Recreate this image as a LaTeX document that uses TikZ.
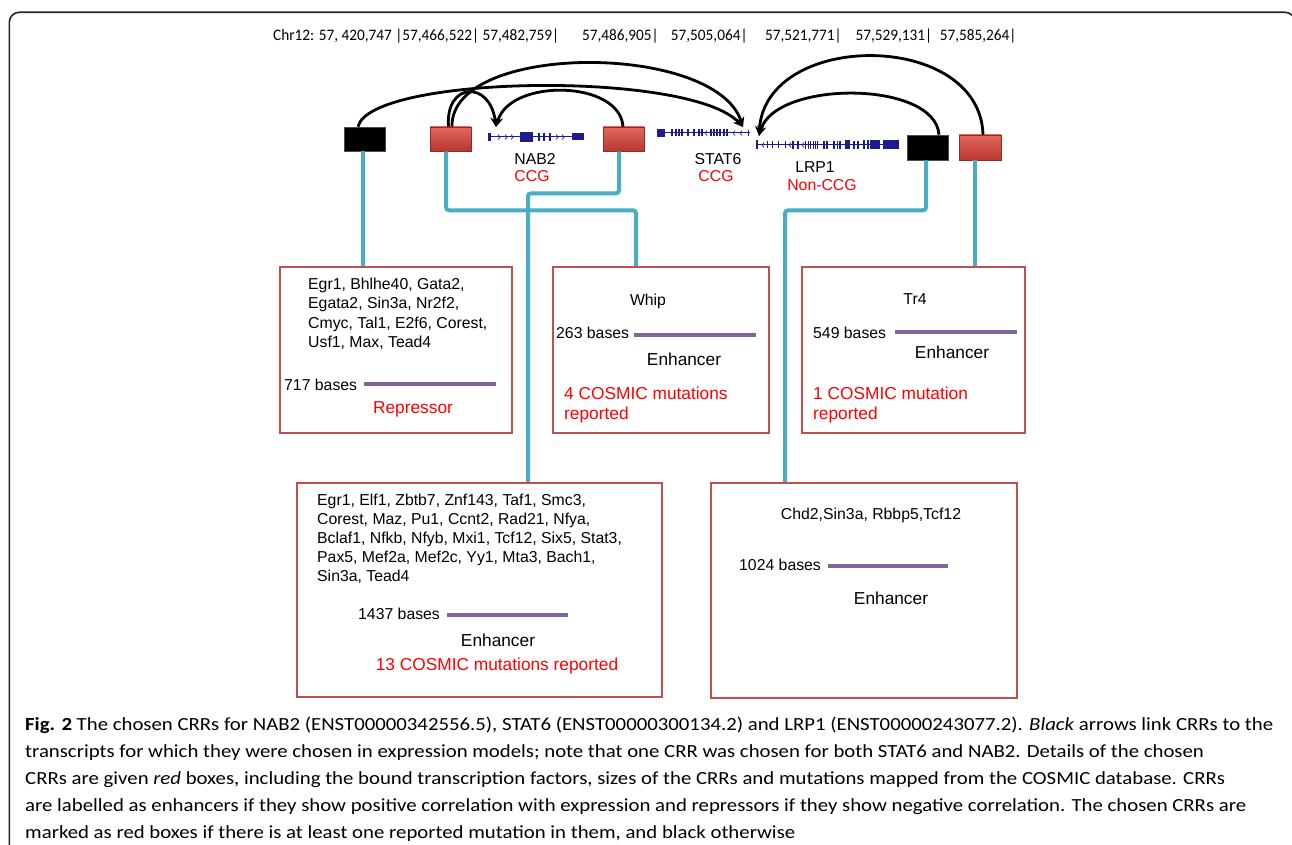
\documentclass[tikz,border=0pt]{standalone}
\usepackage{fontspec}
\usepackage{graphicx}
\setmainfont{Liberation Sans}
\newfontfamily\capfont{Carlito}
\newfontfamily\hdrfont{Carlito}
\usetikzlibrary{arrows.meta}
\definecolor{cblue}{HTML}{4BACC6}
\definecolor{cred}{HTML}{C0504D}
\definecolor{cpurp}{HTML}{8064A2}
\definecolor{cnavy}{HTML}{1C1C8C}
\definecolor{crrtop}{HTML}{E2675D}
\definecolor{crrbot}{HTML}{B8362F}
\definecolor{crredge}{HTML}{8E2B25}
\definecolor{tred}{HTML}{FF0000}
\newlength\capw
\newlength\hdrw
\newcommand\capA{\textbf{Fig. 2} The chosen CRRs for NAB2 (ENST00000342556.5), STAT6 (ENST00000300134.2) and LRP1 (ENST00000243077.2). \textit{Black} arrows link CRRs to the}
\newcommand\capB{transcripts for which they were chosen in expression models; note that one CRR was chosen for both STAT6 and NAB2. Details of the chosen}
\newcommand\capC{CRRs are given \textit{red} boxes, including the bound transcription factors, sizes of the CRRs and mutations mapped from the COSMIC database. CRRs}
\newcommand\capD{are labelled as enhancers if they show positive correlation with expression and repressors if they show negative correlation. The chosen CRRs are}
\newcommand\capE{marked as red boxes if there is at least one reported mutation in them, and black otherwise}
\newcommand\hdrtext{Chr12: 57, 420,747 |57,466,522| 57,482,759|\hspace*{1.5em}57,486,905|\hspace*{0.8em}57,505,064|\hspace*{1.15em}57,521,771|\hspace*{0.9em}57,529,131|\hspace*{0.5em}57,585,264|}
\begin{document}
\settowidth\hdrw{\hdrfont\fontsize{16}{18}\selectfont\hdrtext}
\settowidth\capw{\capfont\fontsize{18.5}{20}\selectfont\capA}
\begin{tikzpicture}[x=1pt,y=-1pt,
  tf/.style={inner sep=0, font=\fontsize{15.8}{18}\selectfont},
  tb/.style={inner sep=0, font=\fontsize{17.3}{20}\selectfont},
  rtx/.style={text=tred},
  crrbox/.style={draw=cred, line width=2.5, inner sep=0},
  bl/.style={draw=cblue, line width=4, rounded corners=3},
  pl/.style={draw=cpurp, line width=4},
  lnk/.style={draw=black, line width=2.8, -{Stealth[length=10,width=9]}},
  crrred/.style={top color=crrtop, bottom color=crrbot, draw=crredge, line width=0.6, inner sep=0, minimum width=41, minimum height=24},
  crrblk/.style={fill=black, draw=black!70, line width=0.6, inner sep=0, minimum width=41, minimum height=24},
  gene/.style={draw=cnavy, line width=1},
  captext/.style={inner sep=0, font=\capfont\fontsize{18.5}{20}\selectfont},
  hdrtxt/.style={inner sep=0, font=\hdrfont\fontsize{16}{18}\selectfont}
]
\useasboundingbox (0,0) rectangle (1292,845);
\clip (0,0) rectangle (1292,845);
\fill[white] (0,0) rectangle (1292,845);
\draw[line width=1.6, black!85, rounded corners=10] (9.3,900) -- (9.3,12.3) -- (1295,12.3) -- (1295,900);

% header
\pgfmathsetmacro\hdrsx{743/\hdrw}
\node[hdrtxt, anchor=base west] (hdr) at (273,41) {\scalebox{\hdrsx}[1]{\hdrtext}};

% genes
\coordinate (nabT) at (496,127);
\coordinate (statT) at (743,127);
\coordinate (lrpT) at (759,136);
% NAB2
\draw[gene] (488,137) -- (584,137);
\foreach \a/\b/\h in {488/491/8, 520/533/10, 538/540/8, 543/545/8, 549/551/8, 572/584/7}
  \fill[cnavy] (\a,{137-\h/2}) rectangle (\b,{137+\h/2});
\foreach \c in {500,507,513,558,564}
  \draw[cnavy, line width=0.7] ({\c-2},134.5) -- (\c,137) -- ({\c-2},139.5);
% STAT6
\draw[gene] (657,133) -- (750,133);
\foreach \a/\b/\h in {657/665/8, 671/673/7, 675/677/7, 678/680/7, 681/683/7, 687/689/7, 693/695/7, 698/700/7, 701/703/7, 710/712/7, 713/715/7, 716/718/7, 719/721/7, 723/725/7, 726/728/7, 748/749/6}
  \fill[cnavy] (\a,{133-\h/2}) rectangle (\b,{133+\h/2});
\foreach \c in {705,733,740}
  \draw[cnavy, line width=0.7] ({\c+2},130.5) -- (\c,133) -- ({\c+2},135.5);
% LRP1
\draw[gene] (756,145) -- (899,145);
\foreach \a/\b/\h in {756/758/9, 767/768/7, 772/773/7, 778/779/7, 785/786/7, 792/794/8, 797/799/8, 805/806/8, 808/809/8, 810/811/8, 813/814/8, 815/816/8, 817/818/8, 823/825/8, 826/828/8, 833/835/8, 837/838/8, 839/841/8, 845/850/9, 853/855/8, 857/859/8, 863/865/9, 867/869/9, 870/880/9, 883/899/9}
  \fill[cnavy] (\a,{145-\h/2}) rectangle (\b,{145+\h/2});
\foreach \c in {762,789,802}
  \draw[cnavy, line width=0.7] ({\c+2},142.5) -- (\c,145) -- ({\c+2},147.5);

% gene labels
\node[tf, anchor=base] (nab) at (535,165) {NAB2};
\node[tf, rtx, anchor=base] (nabc) at (532,181.5) {CCG};
\node[tf, anchor=base] (stat) at (718,165) {STAT6};
\node[tf, rtx, anchor=base] (statc) at (716,181.5) {CCG};
\node[tf, anchor=base] (lrp) at (815,172.5) {LRP1};
\node[tf, rtx, anchor=base] (lrpc) at (822,190.5) {Non-CCG};

% CRR boxes
\node[crrblk] (k1) at (364.5,139) {};
\node[crrred] (k2) at (450.5,139) {};
\node[crrred] (k3) at (623.5,139) {};
\node[crrblk, minimum height=25] (k4) at (927.5,147.5) {};
\node[crrred, minimum height=25, minimum width=42] (k5) at (980,147.5) {};

% links
\draw[lnk] ([xshift=-6.5]k1.north) .. controls (370,75) and (690,70) .. (statT);
\draw[lnk] ([xshift=1.5]k2.north) .. controls (450,42) and (715,42) .. (statT);
\draw[lnk] ([xshift=-2]k2.north) .. controls (445,82) and (490,80) .. (nabT);
\draw[lnk] ([xshift=-0.5]k3.north) .. controls (620,80) and (510,78) .. (nabT);
\draw[lnk] ([xshift=11.5]k4.north) .. controls (935,80) and (775,80) .. (lrpT);
\draw[lnk] ([xshift=3]k5.north) .. controls (980,30) and (765,30) .. (lrpT);

% detail boxes
\node[crrbox, minimum width=232, minimum height=166] (bA) at (396,350) {};
\node[crrbox, minimum width=216, minimum height=166] (bB) at (661,350) {};
\node[crrbox, minimum width=223, minimum height=166] (bE) at (913.5,350) {};
\node[crrbox, minimum width=365, minimum height=214] (bC) at (479.5,590) {};
\node[crrbox, minimum width=306, minimum height=215] (bD) at (864,590.5) {};

% blue connectors
\draw[bl] ([xshift=-1.5]k1.south) -- ([xshift=-1.5]k1.south |- bA.north);
\draw[bl] ([xshift=-4.5]k2.south) -- ++(0,59) -| ([xshift=-25]bB.north);
\draw[bl] ([xshift=-4.5]k3.south) -- ++(0,42) -| ([xshift=48.5]bC.north);
\draw[bl] ([xshift=-1.5]k4.south) -- ++(0,50) -| ([xshift=-79]bD.north);
\draw[bl] ([xshift=-5]k5.south) -- ([xshift=-5]k5.south |- bE.north);

% box A
\node[tf, anchor=base west] (a1) at (308,289.5) {Egr1, Bhlhe40, Gata2,};
\node[tf, anchor=base west] (a2) at (308,308.8) {Egata2, Sin3a, Nr2f2,};
\node[tf, anchor=base west] (a3) at (308,328.1) {Cmyc, Tal1, E2f6, Corest,};
\node[tf, anchor=base west] (a4) at (308,347.4) {Usf1, Max, Tead4};
\node[tf, anchor=base west] (a5) at (284,390.5) {717 bases};
\draw[pl] (364,384) -- (496,384);
\node[tb, rtx, anchor=base] (a6) at (413,413) {Repressor};

% box B
\node[tf, anchor=base] (b1) at (648,305.5) {Whip};
\node[tf, anchor=base west] (b2) at (556,338.5) {263 bases};
\draw[pl] (634,335) -- (755.5,335);
\node[tb, anchor=base] (b3) at (684,365) {Enhancer};
\node[tb, rtx, anchor=base west] (b4) at (564,399) {4 COSMIC mutations};
\node[tb, rtx, anchor=base west] (b5) at (564,419) {reported};

% box E
\node[tf, anchor=base] (e1) at (915,304.5) {Tr4};
\node[tf, anchor=base west] (e2) at (813,338.5) {549 bases};
\draw[pl] (895,332) -- (1017,332);
\node[tb, anchor=base] (e3) at (952,358) {Enhancer};
\node[tb, rtx, anchor=base west] (e4) at (813,399) {1 COSMIC mutation};
\node[tb, rtx, anchor=base west] (e5) at (813,419) {reported};

% box C
\node[tf, anchor=base west] (c1) at (317,505.5) {Egr1, Elf1, Zbtb7, Znf143, Taf1, Smc3,};
\node[tf, anchor=base west] (c2) at (317,524.5) {Corest, Maz, Pu1, Ccnt2, Rad21, Nfya,};
\node[tf, anchor=base west] (c3) at (317,543.5) {Bclaf1, Nfkb, Nfyb, Mxi1, Tcf12, Six5, Stat3,};
\node[tf, anchor=base west] (c4) at (317,562.5) {Pax5, Mef2a, Mef2c, Yy1, Mta3, Bach1,};
\node[tf, anchor=base west] (c5) at (317,581.5) {Sin3a, Tead4};
\node[tf, anchor=base west] (c6) at (358,619.5) {1437 bases};
\draw[pl] (447,615) -- (568,615);
\node[tb, anchor=base] (c7) at (498,646) {Enhancer};
\node[tb, rtx, anchor=base] (c8) at (497,670) {13 COSMIC mutations reported};

% box D
\node[tf, anchor=base] (d1) at (871,519.5) {Chd2,Sin3a, Rbbp5,Tcf12};
\node[tf, anchor=base west] (d2) at (739,570.5) {1024 bases};
\draw[pl] (828,566) -- (948,566);
\node[tb, anchor=base] (d3) at (891,604) {Enhancer};

% caption
\pgfmathsetmacro\capsx{1248/\capw}
\node[captext, anchor=base west] (cap1) at (25,730) {\scalebox{\capsx}[1]{\capA}};
\node[captext, anchor=base west] (cap2) at (25,757) {\scalebox{\capsx}[1]{\capB}};
\node[captext, anchor=base west] (cap3) at (25,784) {\scalebox{\capsx}[1]{\capC}};
\node[captext, anchor=base west] (cap4) at (25,811) {\scalebox{\capsx}[1]{\capD}};
\node[captext, anchor=base west] (cap5) at (25,838) {\scalebox{\capsx}[1]{\capE}};
\end{tikzpicture}
\end{document}
